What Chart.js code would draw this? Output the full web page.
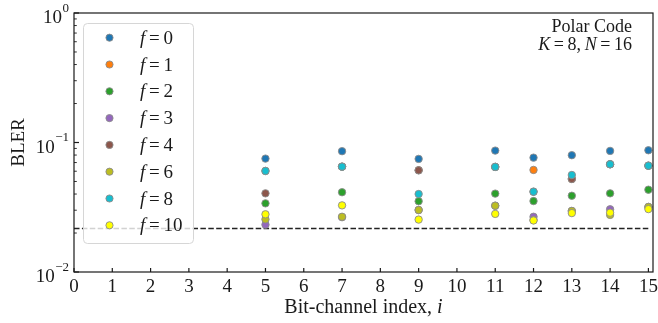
<!DOCTYPE html>
<html>
<head>
<meta charset="utf-8">
<script src="https://cdn.jsdelivr.net/npm/chart.js@4.4.1/dist/chart.umd.min.js"></script>
<style>
  html, body { margin: 0; padding: 0; background: #fff; }
  #wrap { width: 658px; height: 323px; }
</style>
</head>
<body>
<div id="wrap"><canvas id="myChart" width="658" height="323"></canvas></div>
<script>
// Bit-channel indices that carry information (K = 8, N = 16)
const channels = [5, 7, 9, 11, 12, 13, 14, 15];
// number of frozen bits flipped
const flips = [0, 1, 2, 3, 4, 6, 8, 10];

// BLER per channel, one array per f
const bler_f0  = [0.0751, 0.0857, 0.0747, 0.0866, 0.0764, 0.0798, 0.0861, 0.0871];
const bler_f1  = [0.0603, 0.0651, 0.0610, 0.0648, 0.0614, 0.0523, 0.0679, 0.0662];
const bler_f2  = [0.0339, 0.0413, 0.0352, 0.0403, 0.0353, 0.0388, 0.0405, 0.0432];
const bler_f3  = [0.0232, 0.0265, 0.0301, 0.0325, 0.0267, 0.0296, 0.0305, 0.0318];
const bler_f4  = [0.0405, 0.0651, 0.0610, 0.0648, 0.0417, 0.0523, 0.0679, 0.0662];
const bler_f6  = [0.0255, 0.0267, 0.0301, 0.0325, 0.0252, 0.0296, 0.0276, 0.0318];
const bler_f8  = [0.0603, 0.0651, 0.0400, 0.0648, 0.0417, 0.0561, 0.0679, 0.0662];
const bler_f10 = [0.0279, 0.0327, 0.0254, 0.0281, 0.0250, 0.0285, 0.0287, 0.0306];
const series = [bler_f0, bler_f1, bler_f2, bler_f3, bler_f4, bler_f6, bler_f8, bler_f10];

const colors = ["#1f77b4", "#ff7f0e", "#2ca02c", "#9467bd", "#8c564b", "#bcbd22", "#17becf", "#ffff00"];

const threshold = 0.0217; // dashed reference line
const xTicks = [0, 1, 2, 3, 4, 5, 6, 7, 8, 9, 10, 11, 12, 13, 14, 15];
const yTicks = [0.01, 0.1, 1];
const yTickExp = ["\u22122", "\u22121", "0"];

const FONT = '"Liberation Serif", "Times New Roman", serif';
const INK = "#1a1a1a";

let datasets = series.map(function (vals, k) {
    return {
        label: "f=" + flips[k],
        type: "scatter",
        data: channels.map(function (c, j) { return {x: c, y: vals[j]}; }),
        backgroundColor: colors[k],
        borderColor: "rgba(140,140,140,0.9)",
        borderWidth: 1,
        pointRadius: 3.7,
        order: series.length - k // later f on top, like matplotlib
    };
});
datasets.push({
    label: "threshold",
    type: "line",
    data: [{x: 0, y: threshold}, {x: 15, y: threshold}],
    borderColor: "#222",
    borderWidth: 1.4,
    borderDash: [5.5, 2.4],
    pointRadius: 0,
    fill: false,
    order: 99
});

// draws frame, ticks, labels, legend and annotation
const decor = {
    id: "decor",
    afterDatasetsDraw(chart) {
        const c = chart.ctx;
        const a = chart.chartArea;
        const xs = chart.scales.x, ys = chart.scales.y;
        c.save();

        // legend box
        const lx = 83.5, ly = 23.5, lw = 110, lh = 220;
        c.beginPath();
        c.roundRect(lx, ly, lw, lh, 4);
        c.fillStyle = "rgba(255,255,255,0.8)";
        c.fill();
        c.strokeStyle = "#d6d6d6";
        c.lineWidth = 1;
        c.stroke();
        for (let k = 0; k < flips.length; k++) {
            const cy = 37.7 + k * 26.8;
            c.beginPath();
            c.arc(109.5, cy, 3.6, 0, Math.PI * 2);
            c.fillStyle = colors[k];
            c.fill();
            c.strokeStyle = "rgba(140,140,140,0.9)";
            c.lineWidth = 1;
            c.stroke();
            drawRich(c, [["f", true], ["\u2009=\u2009", false], [String(flips[k]), false]], 140, cy + 6, "left", 19);
        }

        // frame
        c.strokeStyle = INK;
        c.lineWidth = 1.2;
        c.strokeRect(a.left, a.top, a.right - a.left, a.bottom - a.top);

        // x ticks (inward) and labels
        c.fillStyle = INK;
        c.font = "19px " + FONT;
        c.textAlign = "center";
        c.textBaseline = "alphabetic";
        xTicks.forEach(function (t) {
            const px = xs.getPixelForValue(t);
            c.beginPath();
            c.moveTo(px, a.bottom);
            c.lineTo(px, a.bottom - 4);
            c.stroke();
            c.fillText(String(t), px, a.bottom + 20);
        });

        // y ticks, major + minor (log)
        yTicks.forEach(function (t, i) {
            const py = ys.getPixelForValue(t);
            c.lineWidth = 1.2;
            c.beginPath();
            c.moveTo(a.left, py);
            c.lineTo(a.left + 5, py);
            c.stroke();
            if (i < yTicks.length - 1) {
                for (let m = 2; m <= 9; m++) {
                    const pm = ys.getPixelForValue(t * m);
                    c.lineWidth = 0.9;
                    c.beginPath();
                    c.moveTo(a.left, pm);
                    c.lineTo(a.left + 2.8, pm);
                    c.stroke();
                }
            }
            // label 10^e
            c.font = "13px " + FONT;
            const ew = c.measureText(yTickExp[i]).width;
            c.textAlign = "right";
            c.fillText(yTickExp[i], 69, py - 1.5);
            c.font = "19px " + FONT;
            c.fillText("10", 69 - ew - 0.5, py + 10);
        });

        // axis titles
        c.textAlign = "center";
        drawRich(c, [["Bit-channel index, ", false], ["i", true]], (a.left + a.right) / 2, 313, "center", 20);
        c.save();
        c.translate(24, (a.top + a.bottom) / 2);
        c.rotate(-Math.PI / 2);
        c.font = "19px " + FONT;
        c.textAlign = "center";
        c.fillText("BLER", 0, 0);
        c.restore();

        // annotation
        drawRich(c, [["Polar Code", false]], 632, 32, "right", 18);
        drawRich(c, [["K", true], ["\u2009=\u20098,\u2009", false], ["N", true], ["\u2009=\u200916", false]], 632, 50, "right", 18);

        c.restore();
    }
};

function drawRich(c, segs, x, y, align, size) {
    let widths = segs.map(function (s) {
        c.font = (s[1] ? "italic " : "") + size + "px " + FONT;
        return c.measureText(s[0]).width;
    });
    let total = widths.reduce(function (p, w) { return p + w; }, 0);
    let sx = align === "right" ? x - total : align === "center" ? x - total / 2 : x;
    c.textAlign = "left";
    c.fillStyle = INK;
    segs.forEach(function (s, i) {
        c.font = (s[1] ? "italic " : "") + size + "px " + FONT;
        c.fillText(s[0], sx, y);
        sx += widths[i];
    });
}

let ctx = document.getElementById("myChart").getContext("2d");
let chart = new Chart(ctx, {
    type: "scatter",
    data: { datasets: datasets },
    options: {
        responsive: false,
        animation: false,
        layout: { padding: { left: 74, right: 5, top: 13, bottom: 51 } },
        plugins: {
            legend: { display: false },
            tooltip: { enabled: false }
        },
        scales: {
            x: { type: "linear", min: 0, max: 15.12, display: false },
            y: { type: "logarithmic", min: 0.01, max: 1, display: false }
        }
    },
    plugins: [decor]
});
</script>
</body>
</html>
